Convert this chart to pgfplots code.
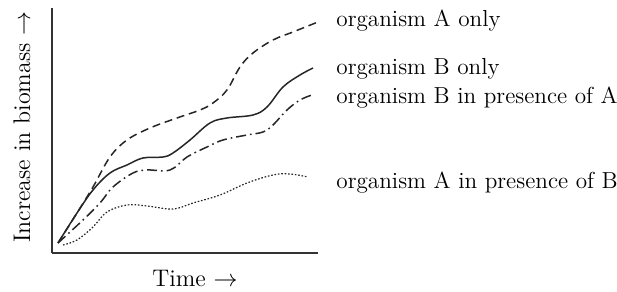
\documentclass[border=0pt]{standalone}
\usepackage{pgfplots}
\pgfplotsset{compat=1.18}
\begin{document}
\begin{tikzpicture}[x=1pt,y=1pt]
\begin{axis}[
  at={(26pt,0pt)},anchor=origin,
  scale only axis, width=133pt, height=122.5pt,
  xmin=52, xmax=318, ymin=0, ymax=245,
  axis lines=left, axis line style={-, line width=0.9pt, black!80},
  ticks=none, clip=false,
  every axis plot/.append style={smooth, tension=0.6, line width=0.75pt, black!85, no marks},
]
% organism A only (dashed)
\addplot[dash pattern=on 4pt off 2.4pt] coordinates {
(58,10)(77,40)(93,66)(110,96)(127,113)(150,125)(177,135)(200,143)(213,150)(227,163)(240,186)(253,200)(273,213)(293,221)(318,231)};
% organism B only (solid)
\addplot[solid] coordinates {
(58,10)(77,40)(93,63)(110,80)(127,88)(143,95)(163,96)(173,100)(190,113)(210,130)(227,135)(253,138)(267,146)(283,166)(300,178)(313,185)};
% organism B in presence of A (dash-dot)
\addplot[dash pattern=on 5pt off 2pt on 0.8pt off 2pt] coordinates {
(58,10)(83,33)(100,50)(113,66)(133,80)(147,83)(170,83)(187,96)(207,106)(223,113)(247,118)(263,121)(273,128)(287,143)(300,153)(312,158)};
% organism A in presence of B (dotted)
\addplot[dash pattern=on 0.8pt off 0.9pt, line width=0.6pt] coordinates {
(63,8)(77,13)(93,26)(107,41)(127,48)(147,47)(173,44)(193,50)(220,58)(247,70)(273,78)(290,79)(308,76)};
\begin{scope}[every node/.style={anchor=west, font=\fontsize{11.6}{14}\selectfont, inner sep=0pt}]
\node at (axis cs:336,232) {organism A only};
\node at (axis cs:336,184) {organism B only};
\node at (axis cs:336,155) {organism B in presence of A};
\node at (axis cs:336,70) {organism A in presence of B};
\end{scope}
\node[font=\large] at (axis cs:195,-25) {Time $\rightarrow$};
\node[font=\large, rotate=90] at (axis cs:22,126) {Increase in biomass $\rightarrow$};
\coordinate (bl) at (axis cs:0,-39);
\coordinate (tr) at (axis cs:617,253);
\end{axis}
\pgfresetboundingbox
\useasboundingbox (bl) rectangle (tr);
\end{tikzpicture}
\end{document}
